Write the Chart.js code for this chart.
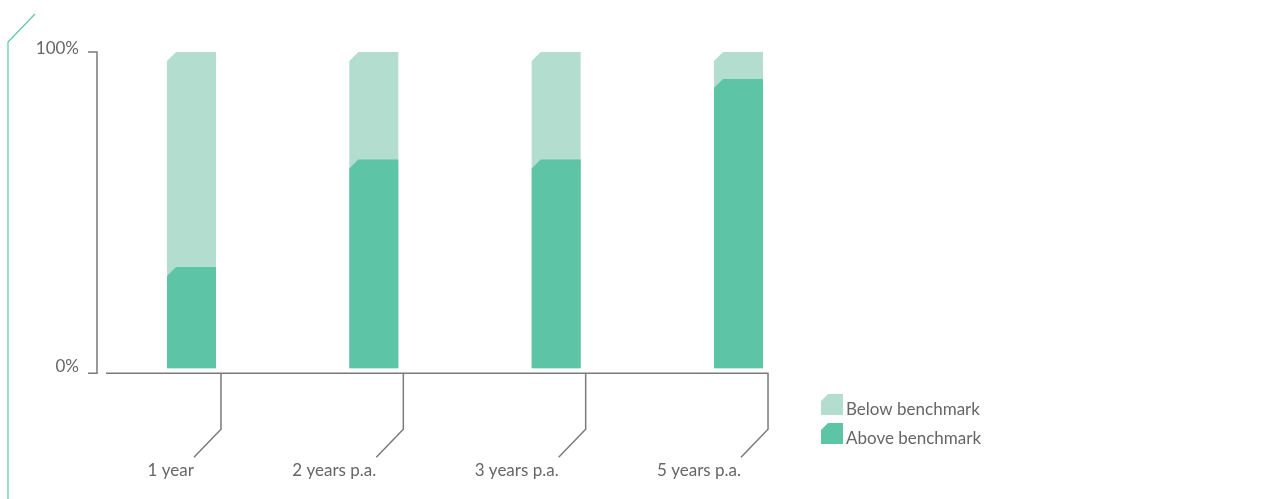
<!DOCTYPE html>
<html>
<head>
<meta charset="utf-8">
<script src="https://cdn.jsdelivr.net/npm/chart.js@4.4.1/dist/chart.umd.min.js"></script>
<style>
  html, body { margin: 0; padding: 0; background: #fff; }
  #wrap { width: 1286px; height: 499px; position: relative; }
</style>
</head>
<body>
<div id="wrap"><canvas id="chart"></canvas></div>
<script>
const categories = ['1 year', '2 years p.a.', '3 years p.a.', '5 years p.a.'];
const aboveBenchmark = [32, 66, 66, 91.5];
const belowBenchmark = [68, 34, 34, 8.5];
const yTicks = [0, 100];

const DARK = '#5ec4a6';
const LIGHT = '#b2ddcf';
const AXIS = '#7a7a7a';
const TEXT = '#666666';
const FONT = '17px Lato, "Open Sans", sans-serif';

// pentagon: rectangle with the top-left corner cut off
function chamfer(ctx, x, y, w, h, c) {
    ctx.beginPath();
    ctx.moveTo(x + c, y);
    ctx.lineTo(x + w, y);
    ctx.lineTo(x + w, y + h);
    ctx.lineTo(x, y + h);
    ctx.lineTo(x, y + c);
    ctx.closePath();
    ctx.fill();
}

const shapes = {
    id: 'shapes',
    beforeDatasetsDraw(chart) {
        const ctx = chart.ctx;
        const low = chart.getDatasetMeta(0).data;
        const high = chart.getDatasetMeta(1).data;
        ctx.save();
        low.forEach((bar, i) => {
            const a = bar.getProps(['x', 'y', 'base', 'width'], true);
            const b = high[i].getProps(['y'], true);
            const left = a.x - a.width / 2;
            ctx.fillStyle = LIGHT;
            chamfer(ctx, left, b.y, a.width, a.base - b.y, 9);
            ctx.fillStyle = DARK;
            chamfer(ctx, left, a.y, a.width, a.base - a.y, 9);
        });
        ctx.restore();
        return false;
    },
    afterDraw(chart) {
        const ctx = chart.ctx;
        const ys = chart.scales.y;
        const y0 = ys.getPixelForValue(0);
        const yTop = ys.getPixelForValue(100);
        const axisY = y0 + 5;
        ctx.save();

        // decorative corner line
        ctx.strokeStyle = DARK;
        ctx.lineWidth = 1.2;
        ctx.beginPath();
        ctx.moveTo(35, 14);
        ctx.lineTo(8, 42);
        ctx.lineTo(8, 499);
        ctx.stroke();

        // y axis
        ctx.strokeStyle = AXIS;
        ctx.lineWidth = 1.5;
        ctx.beginPath();
        ctx.moveTo(88, yTop);
        ctx.lineTo(97, yTop);
        ctx.lineTo(97, axisY);
        ctx.lineTo(88, axisY);
        ctx.stroke();

        ctx.fillStyle = TEXT;
        ctx.font = FONT;
        ctx.textAlign = 'right';
        ctx.textBaseline = 'alphabetic';
        yTicks.forEach(v => {
            const py = ys.getPixelForValue(v);
            ctx.fillText(v + '%', 79, v === 0 ? py + 4 : py + 2);
        });

        // x axis with bent leader lines to the labels
        const bars = chart.getDatasetMeta(0).data;
        const last = bars[bars.length - 1];
        ctx.beginPath();
        ctx.moveTo(106, axisY);
        ctx.lineTo(last.x + last.width / 2 + 5.5, axisY);
        ctx.stroke();
        bars.forEach((bar, i) => {
            const tx = bar.x + bar.width / 2 + 5;
            ctx.beginPath();
            ctx.moveTo(tx, axisY);
            ctx.lineTo(tx, axisY + 56);
            ctx.lineTo(tx - 27, axisY + 84);
            ctx.stroke();
            ctx.fillText(categories[i], tx - 27, 476);
        });

        // legend
        ctx.textAlign = 'left';
        const items = [[chart.data.datasets[1].label, LIGHT, 394], [chart.data.datasets[0].label, DARK, 423]];
        items.forEach(([label, color, top]) => {
            ctx.fillStyle = color;
            chamfer(ctx, 821, top, 22, 21, 7);
            ctx.fillStyle = TEXT;
            ctx.fillText(label, 846, top + 21);
        });
        ctx.restore();
    }
};

new Chart(document.getElementById('chart'), {
    type: 'bar',
    data: {
        labels: categories,
        datasets: [
            { label: 'Above benchmark', data: aboveBenchmark, backgroundColor: DARK, barThickness: 49 },
            { label: 'Below benchmark', data: belowBenchmark, backgroundColor: LIGHT, barThickness: 49 }
        ]
    },
    options: {
        responsive: true,
        maintainAspectRatio: false,
        animation: false,
        layout: { padding: { left: 100.3, right: 456.3, top: 52, bottom: 130.7 } },
        plugins: { legend: { display: false }, tooltip: { enabled: false } },
        scales: {
            x: { stacked: true, display: false, offset: true },
            y: { stacked: true, display: false, min: 0, max: 100 }
        }
    },
    plugins: [shapes]
});
</script>
</body>
</html>
